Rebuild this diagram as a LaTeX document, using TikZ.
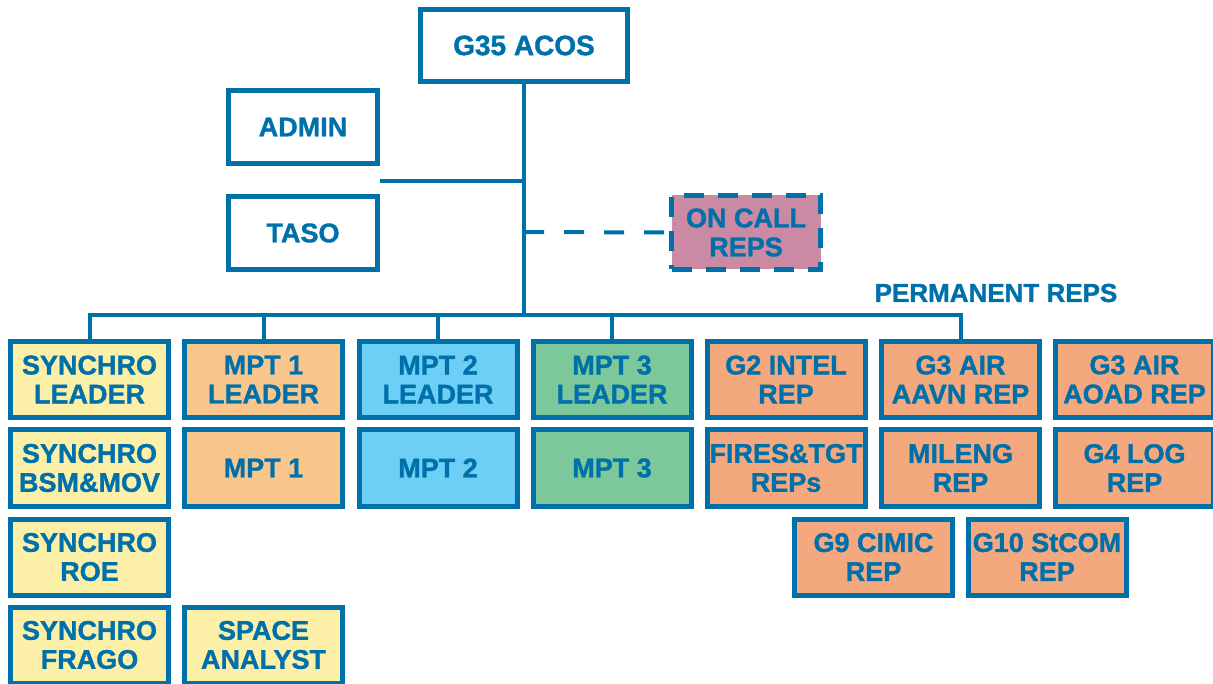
\documentclass[tikz,border=0pt]{standalone}
\usepackage{fontspec}
\setmainfont{Liberation Sans}[BoldFeatures={FakeBold=1.3}]
\definecolor{navy}{RGB}{0,112,170}
\definecolor{fyellow}{RGB}{252,240,168}
\definecolor{forange}{RGB}{249,199,140}
\definecolor{fblue}{RGB}{109,207,246}
\definecolor{fgreen}{RGB}{125,200,154}
\definecolor{freps}{RGB}{244,168,126}
\definecolor{fpink}{RGB}{202,138,163}
\begin{document}
\begin{tikzpicture}[x=1pt,y=-1pt,
  box/.style={draw=navy,line width=5pt,rectangle,align=center,text=navy,
    font=\fontsize{27}{29}\selectfont\bfseries,inner sep=0pt},
  unit/.style={box,minimum width=158pt,minimum height=76pt},
  conn/.style={draw=navy,line width=4pt},
  dashconn/.style={draw=navy,line width=4pt,dash pattern=on 20pt off 20pt}]
\useasboundingbox (0,0) rectangle (1213,684);
% top
\node[box,font=\fontsize{28}{30}\selectfont\bfseries,minimum width=207pt,minimum height=72pt] (acos) at (524,45.5) {G35 ACOS};
\node[box,minimum width=149pt,minimum height=73pt] (admin) at (303,127) {ADMIN};
\node[box,minimum width=149pt,minimum height=73pt] (taso) at (303,233) {TASO};
\node[box,fill=fpink,minimum width=149pt,minimum height=74pt,dash pattern=on 20pt off 14pt] (oncall) at (746,232.5) {ON CALL\\REPS};
\node[text=navy,font=\fontsize{26}{28}\selectfont\bfseries,inner sep=0pt] (perm) at (996,293) {PERMANENT REPS};
% row 1
\node[unit,fill=fyellow] (s1) at (89.5,379.5) {SYNCHRO\\LEADER};
\node[unit,fill=forange] (m1l) at (263.5,379.5) {MPT 1\\LEADER};
\node[unit,fill=fblue] (m2l) at (438,379.5) {MPT 2\\LEADER};
\node[unit,fill=fgreen] (m3l) at (612,379.5) {MPT 3\\LEADER};
\node[unit,fill=freps] (g2) at (786,379.5) {G2 INTEL\\REP};
\node[unit,fill=freps] (g3a) at (960.5,379.5) {G3 AIR\\AAVN REP};
\node[unit,fill=freps] (g3b) at (1134.5,379.5) {G3 AIR\\AOAD REP};
% row 2
\node[unit,fill=fyellow] (s2) at (89.5,468) {SYNCHRO\\BSM\&MOV};
\node[unit,fill=forange] (m1) at (263.5,468) {MPT 1};
\node[unit,fill=fblue] (m2) at (438,468) {MPT 2};
\node[unit,fill=fgreen] (m3) at (612,468) {MPT 3};
\node[unit,fill=freps] (fires) at (786,468) {FIRES\&TGT\\REPs};
\node[unit,fill=freps] (mil) at (960.5,468) {MILENG\\REP};
\node[unit,fill=freps] (g4) at (1134.5,468) {G4 LOG\\REP};
% row 3
\node[unit,fill=fyellow] (s3) at (89.5,557) {SYNCHRO\\ROE};
\node[unit,fill=freps] (g9) at (873.5,557) {G9 CIMIC\\REP};
\node[unit,fill=freps] (g10) at (1047,557) {G10 StCOM\\REP};
% row 4
\node[unit,fill=fyellow] (s4) at (89.5,645) {SYNCHRO\\FRAGO};
\node[unit,fill=fyellow] (space) at (263.5,645) {SPACE\\ANALYST};
% connectors
\coordinate (bus) at (524,315);
\coordinate (adminlink) at (380,181);
\coordinate (callj) at (524,232);
\draw[conn] (acos.south) -- (bus);
\draw[conn] (adminlink) -- (adminlink -| acos.south);
\draw[dashconn] (callj) -- (oncall.west);
\draw[conn] (s1.north) |- (bus) -| (g3a.north);
\draw[conn] (m1l.north) -- (m1l.north |- bus);
\draw[conn] (m2l.north) -- (m2l.north |- bus);
\draw[conn] (m3l.north) -- (m3l.north |- bus);
\end{tikzpicture}
\end{document}
